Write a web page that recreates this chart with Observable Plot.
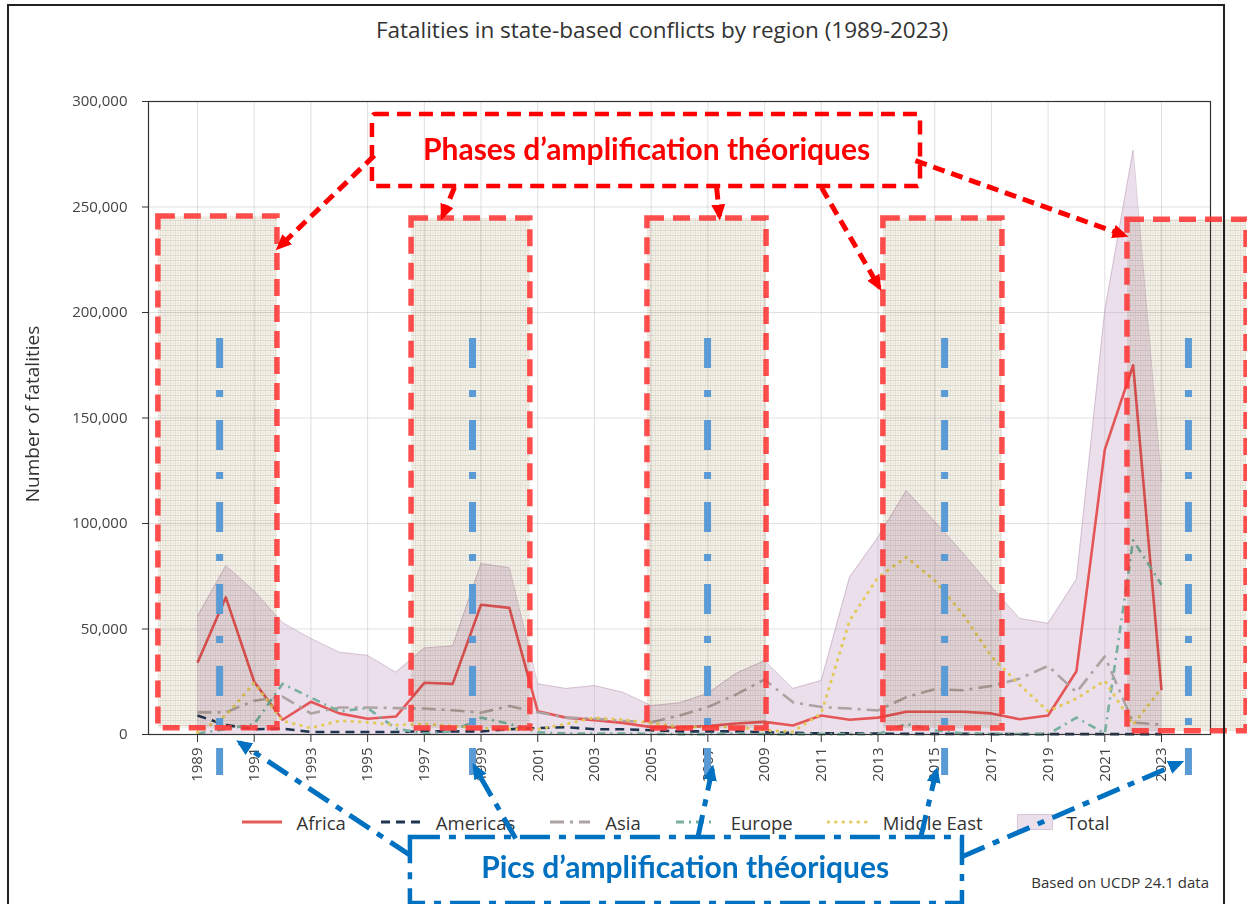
<!DOCTYPE html>
<html>
<head>
<meta charset="utf-8">
<script src="https://cdn.jsdelivr.net/npm/d3@7"></script>
<script src="https://cdn.jsdelivr.net/npm/@observablehq/plot@0.6"></script>
<style>
html, body { margin: 0; padding: 0; background: #fff; }
#wrap { position: relative; width: 1247px; height: 904px; overflow: hidden; font-family: "Open Sans", sans-serif; background: #fff; }
#title { height: 55px; box-sizing: border-box; padding-top: 15px; padding-left: 77px; text-align: center; font-size: 22.5px; line-height: 29px; color: #333; }
#chart svg { display: block; position: relative; z-index: 2; overflow: visible !important; background: transparent !important; }
#legend { position: absolute; left: 0; top: 809px; width: 1247px; box-sizing: border-box; padding-left: 103px; display: flex; justify-content: center; align-items: center; gap: 34px; z-index: 1; font-size: 18.5px; color: #333; height: 26px; }
#legend .item { display: flex; align-items: center; gap: 14px; }
#legend svg { display: block; }
#caption { position: absolute; right: 38px; top: 872px; font-size: 15px; color: #333; z-index: 1; }
#border { position: absolute; left: 7px; top: 4px; width: 1214px; height: 1000px; border: 2px solid #222; z-index: 3; pointer-events: none; }
</style>
</head>
<body>
<div id="wrap">
  <div id="title">Fatalities in state-based conflicts by region (1989-2023)</div>
  <div id="chart"></div>
  <div id="legend"></div>
  <div id="caption">Based on UCDP 24.1 data</div>
  <div id="border"></div>
</div>
<script>
// ---------- DATA (fatalities, thousands) ----------
const years = [1989,1990,1991,1992,1993,1994,1995,1996,1997,1998,1999,2000,2001,2002,2003,2004,2005,2006,2007,2008,2009,2010,2011,2012,2013,2014,2015,2016,2017,2018,2019,2020,2021,2022,2023];
const africa     = [34,65,25,7,15.5,10,7.5,8.5,24.5,24, 61.5,60,11,8,6.8,5.5,3.5,3.3,4,5.2, 6,4.3,9,7,8,10.8,10.8,10.8,10,7.2, 9,30,135,175,21];
const americas   = [9,4.5,2.5,2.8,1.2,1.2,1.2,1.2,1.5,1.5, 1.5,2.5,3,3.5,2.5,2.5,2,1.5,1.5,1.5, 1,0.8,0.5,0.6,0.4,0.3,0.3,0.3,0.2,0.2, 0.2,0.2,0.2,0.2,0.2];
const asia       = [10.5,10.5,16,18,10,12.8,12.8,12.5,12.3,11.5, 10.3,13.5,10.5,8,7.5,6.5,5.8,9,13,19, 26,15.3,13,12.3,11.4,17.7,21.5,21,23,26.5, 32.5,20,37,5.7,4.7];
const europe     = [0.5,2.5,5,24,17.5,11,12.5,2.8,0.5,1.5, 8,5,1,0.5,0.5,0.5,0.3,0.2,0.2,0.5, 0.2,0.2,0.2,0.2,0.2,5,2,0.5,0.3,0.2, 0.2,8,0.5,92,71];
const middleEast = [1,9,24.5,6.5,3,6.5,5.8,4.5,5,4, 3,2.5,2.5,5,8,7,5.5,3.5,3.5,3.5, 2,1.3,10,54,74.5,84,73,57,37,23.5, 11,17,25.5,4.7,22];
const total      = [56,80,68,53,45.5,39,37.5,29.5,41,42, 81,79,24,21.8,23.2,20,13.7,15,19.5,29, 35,21.8,25.6,74.6,93.5,115.6,101,86,70,55, 52.7,73.6,201,277,120];

const regionNames = ["Africa","Americas","Asia","Europe","Middle East"];
const regionValues = [africa, americas, asia, europe, middleEast];
const xTicks = [1989,1991,1993,1995,1997,1999,2001,2003,2005,2007,2009,2011,2013,2015,2017,2019,2021,2023];
const yTicks = [0,50000,100000,150000,200000,250000,300000];
const yLabel = "Number of fatalities";

// ---------- ANNOTATIONS (data coordinates: year, fatalities) ----------
const phaseBoxes = [
  {x1:1987.62, x2:1991.82, y1:3000, y2:245500},
  {x1:1996.55, x2:2000.74, y1:2800, y2:244500},
  {x1:2004.87, x2:2009.07, y1:2800, y2:244500},
  {x1:2013.19, x2:2017.39, y1:2800, y2:244500},
  {x1:2021.80, x2:2026.00, y1:1500, y2:244000}
];
const peakLines = [
  {x:1989.78, y1:187700, y2:-19400},
  {x:1998.70, y1:187700, y2:-19400},
  {x:2006.99, y1:187700, y2:-19400},
  {x:2015.35, y1:187700, y2:-19400},
  {x:2023.95, y1:187700, y2:-19400}
];
const phaseCallout = [{x1:1995.17, x2:2014.50, y1:259700, y2:293800}];
const phaseLabel = [{x:2004.84, y:277000, label:"Phases d’amplification théoriques"}];
const phaseArrows = [
  {x1:1995.24, y1:274400, x2:1991.86, y2:230800},
  {x1:1998.06, y1:259200, x2:1997.64, y2:245500},
  {x1:2007.31, y1:259200, x2:2007.41, y2:245500},
  {x1:2011.01, y1:259200, x2:2013.05, y2:211800},
  {x1:2014.32, y1:272000, x2:2021.70, y2:236500}
];
const peakCallout = [{x1:1996.51, x2:2015.98, y1:-48800, y2:-80100}];
const peakLabel = [{x:2006.2, y:-63400, label:"Pics d’amplification théoriques"}];
const peakArrows = [
  {x1:1996.51, y1:-57300, x2:1990.48, y2:-3800},
  {x1:2000.22, y1:-49300, x2:1998.77, y2:-15200},
  {x1:2006.64, y1:-49300, x2:2007.16, y2:-16100},
  {x1:2014.50, y1:-49300, x2:2015.06, y2:-17100},
  {x1:2015.98, y1:-57800, x2:2023.67, y2:-13300}
];

// ---------- STYLES ----------
const styles = {
  "Africa":      {stroke:"#e34848", width:2.6, dash:null, opacity:0.9},
  "Americas":    {stroke:"#1f3550", width:2.6, dash:"9 6", opacity:1},
  "Asia":        {stroke:"#aea3a3", width:2.6, dash:"14 6 3 6", opacity:1},
  "Europe":      {stroke:"#78b0a0", width:2.6, dash:"8 5 2 5", opacity:1},
  "Middle East": {stroke:"#e2c95a", width:3, dash:"0.5 7", opacity:1}
};
const totalFill = "#c7a3c5";

// ---------- TABLES ----------
const rows = [];
regionNames.forEach((name, r) => years.forEach((yr, i) => rows.push({region:name, year:yr, value:regionValues[r][i]*1000})));
const totalRows = years.map((yr, i) => ({year:yr, value:total[i]*1000}));

const lineMarks = regionNames.map(name => {
  const s = styles[name];
  return Plot.line(rows.filter(d => d.region === name), {
    x:"year", y:"value", stroke:s.stroke, strokeWidth:s.width,
    strokeDasharray:s.dash || undefined, strokeOpacity:s.opacity,
    strokeLinecap: name === "Middle East" ? "round" : "butt", strokeLinejoin:"round"
  });
});

const chart = Plot.plot({
  width: 1247, height: 745,
  marginLeft: 148, marginRight: 37, marginTop: 46, marginBottom: 66,
  style: "font-family: 'Open Sans', sans-serif; font-size: 15px; color: #333;",
  x: {domain:[1987.272, 2024.728]},
  y: {domain:[0, 300000]},
  marks: [
    Plot.gridX(xTicks, {stroke:"#bbb", strokeOpacity:0.45}),
    Plot.gridY(yTicks, {stroke:"#bbb", strokeOpacity:0.45}),
    Plot.areaY(totalRows, {x:"year", y:"value", fill:totalFill, fillOpacity:0.35}),
    Plot.lineY(totalRows, {x:"year", y:"value", stroke:"#b394b0", strokeOpacity:0.45, strokeWidth:1}),
    ...lineMarks,
    Plot.frame({stroke:"#333", strokeWidth:1.2}),
    Plot.axisX({ticks:xTicks, tickRotate:-90, tickSize:8, tickPadding:5, tickFormat:d => String(d), label:null, fill:"#444", fontSize:15}),
    Plot.axisY({ticks:yTicks, tickSize:6, tickPadding:15, tickFormat:d3.format(","), label:null, fill:"#444", fontSize:15}),
    Plot.text([yLabel], {frameAnchor:"left", dx:-116, dy:-4, rotate:-90, text:d => d, fontSize:19, fill:"#333", textAnchor:"middle", lineAnchor:"middle"}),
    // phase boxes (textured, multiplied)
    Plot.rect(phaseBoxes, {x1:"x1", x2:"x2", y1:"y1", y2:"y2", fill:"#e9dfcc", mixBlendMode:"multiply"}),
    Plot.rect(phaseBoxes, {x1:"x1", x2:"x2", y1:"y1", y2:"y2", fill:"none", stroke:"#ff3535", strokeOpacity:0.88, strokeWidth:5.5, strokeDasharray:"17 9"}),
    // peak lines
    Plot.ruleX(peakLines, {x:"x", y1:"y1", y2:"y2", stroke:"#5b9bd5", strokeWidth:7, strokeDasharray:"30 22 7 23"}),
    // phase callout
    Plot.rect(phaseCallout, {x1:"x1", x2:"x2", y1:"y1", y2:"y2", fill:"none", stroke:"#ff0000", strokeWidth:4.5, strokeDasharray:"14 8", rx:3}),
    Plot.text(phaseLabel, {x:"x", y:"y", text:"label", fill:"#ff0000", fontSize:30, fontWeight:"bold", fontFamily:"Lato", textAnchor:"middle", lineAnchor:"middle"}),
    Plot.link(phaseArrows, {x1:"x1", y1:"y1", x2:"x2", y2:"y2", stroke:"#ff0000", strokeWidth:5, strokeDasharray:"12 7"}),
    // peak callout
    Plot.rect(peakCallout, {x1:"x1", x2:"x2", y1:"y1", y2:"y2", fill:"none", stroke:"#0070c0", strokeWidth:4.5, strokeDasharray:"30 9 7 9"}),
    Plot.text(peakLabel, {x:"x", y:"y", text:"label", fill:"#0070c0", fontSize:30, fontWeight:"bold", fontFamily:"Lato", textAnchor:"middle", lineAnchor:"middle"}),
    Plot.link(peakArrows, {x1:"x1", y1:"y1", x2:"x2", y2:"y2", stroke:"#0070c0", strokeWidth:5, strokeDasharray:"24 9 7 9"})
  ]
});

// defs: canvas texture and arrow heads
const svgSel = d3.select(chart);
const defs = svgSel.insert("defs", ":first-child");
const pat = defs.append("pattern").attr("id","canvasTex").attr("width",5).attr("height",5).attr("patternUnits","userSpaceOnUse");
pat.append("rect").attr("width",5).attr("height",5).attr("fill","#f5f2ea");
pat.append("path").attr("d","M0 0.5H5").attr("stroke","#ddd8cd").attr("stroke-width",1);
pat.append("path").attr("d","M0.5 0V5").attr("stroke","#e4dfd5").attr("stroke-width",1);
pat.append("rect").attr("x",2).attr("y",2).attr("width",2).attr("height",2).attr("fill","#ece7dc");
function head(id, color) {
  const m = defs.append("marker").attr("id", id).attr("viewBox","0 0 16 14").attr("refX",12).attr("refY",7)
    .attr("markerWidth",16).attr("markerHeight",14).attr("markerUnits","userSpaceOnUse").attr("orient","auto");
  m.append("path").attr("d","M0,0 L16,7 L0,14 Z").attr("fill", color);
}
head("headRed", "#ff0000");
head("headBlue", "#0070c0");
svgSel.selectAll('[fill="#e9dfcc"]').attr("fill","url(#canvasTex)");
svgSel.selectAll('g[aria-label="link"]').each(function() {
  const s = (this.getAttribute("stroke") || "").toLowerCase();
  d3.select(this).selectAll("path").attr("marker-end", s === "#ff0000" ? "url(#headRed)" : "url(#headBlue)");
});
document.getElementById("chart").appendChild(chart);

// ---------- LEGEND ----------
const legend = document.getElementById("legend");
regionNames.forEach(name => {
  const s = styles[name];
  const item = document.createElement("div");
  item.className = "item";
  item.innerHTML = `<svg width="42" height="20"><line x1="1" x2="41" y1="10" y2="10" stroke="${s.stroke}" stroke-width="3" ${s.dash ? `stroke-dasharray="${s.dash}"` : ""} stroke-linecap="${name === "Middle East" ? "round" : "butt"}" stroke-opacity="${s.opacity}"/></svg><span>${name}</span>`;
  legend.appendChild(item);
});
const tItem = document.createElement("div");
tItem.className = "item";
tItem.innerHTML = `<svg width="36" height="20"><rect x="0.5" y="2.5" width="35" height="15" fill="${totalFill}" fill-opacity="0.35" stroke="#b394b0" stroke-opacity="0.45"/></svg><span>Total</span>`;
legend.appendChild(tItem);
</script>
</body>
</html>
